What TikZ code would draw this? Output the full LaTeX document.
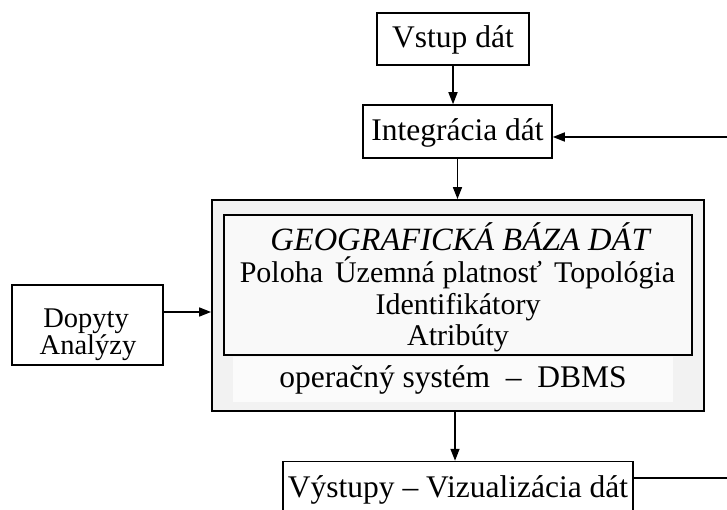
\documentclass[tikz,border=0pt]{standalone}
\usepackage{fontspec}
\setmainfont{Liberation Serif}
\usetikzlibrary{arrows.meta}
\begin{document}
\begin{tikzpicture}[x=1pt,y=-1pt,
  box/.style={draw,line width=1.5pt,fill=white,inner sep=0pt,text height=22pt,text depth=4pt},
  arr/.style={line width=1.6pt,-{Triangle[length=12pt,width=9pt]}},
  plain/.style={line width=1.6pt},
  txt/.style={inner sep=0pt,anchor=base},
  inn/.style={txt,font=\fontsize{30}{28}\selectfont},
  font=\fontsize{31.5}{28}\selectfont]
\path[use as bounding box] (0,0) rectangle (727,510);
\clip (0,0) rectangle (727,510);
% top boxes
\node[box,minimum width=152pt,minimum height=52pt] (vstup) at (453,39) {Vstup dát};
\node[box,minimum width=189pt,minimum height=53pt] (integ) at (457.5,131.5) {Integrácia dát};
% big system box
\node[draw,line width=1.8pt,fill=black!5,minimum width=492pt,minimum height=211pt,inner sep=0pt] (outer) at (458,305.5) {};
\node[fill=black!1.5,minimum width=440pt,minimum height=45pt,inner sep=0pt] (dbmsbg) at (453,379.5) {};
\node[draw,line width=1.5pt,fill=black!2.5,minimum width=468pt,minimum height=140pt,inner sep=0pt] (inner) at (458,285) {};
\node[txt,font=\fontsize{32.5}{28}\selectfont\itshape] (t1) at (460,251) {GEOGRAFICKÁ BÁZA DÁT};
\node[inn] (t2) at (457.5,283) {Poloha\hspace{0.4em}Územná platnosť\hspace{0.4em}Topológia};
\node[inn] (t3) at (458,314) {Identifikátory};
\node[inn] (t4) at (458,345) {Atribúty};
\node[txt] (t5) at (453,387) {operačný systém\ \ –\ \ DBMS};
% left box
\node[box,minimum width=151pt,minimum height=80pt] (dopyty) at (87.5,325) {};
\node[txt,font=\fontsize{28.5}{27}\selectfont] (d1) at (86,327) {Dopyty};
\node[txt,font=\fontsize{28.5}{27}\selectfont] (d2) at (88,354) {Analýzy};
% bottom box
\node[box,minimum width=350pt,minimum height=53pt] (vyst) at (458,488) {Výstupy – Vizualizácia dát};
% connectors
\draw[arr] (vstup.south) -- (vstup.south |- integ.north);
\draw[arr] (integ.south) -- (integ.south |- outer.north);
\coordinate (q) at ([yshift=13pt]dopyty.east);
\draw[arr] (q) -- (q -| outer.west);
\coordinate (ob) at (455,0);
\draw[arr] (ob |- outer.south) -- (ob |- vyst.north);
\coordinate (fbs) at ([yshift=10pt]vyst.east);
\coordinate (fbe) at ([yshift=-5.5pt]integ.east);
\coordinate (fbc) at (745,137);
\draw[plain] (fbs) -- (fbs -| fbc) -- (fbc);
\draw[arr] (fbc) -- (fbe);
\end{tikzpicture}
\end{document}
